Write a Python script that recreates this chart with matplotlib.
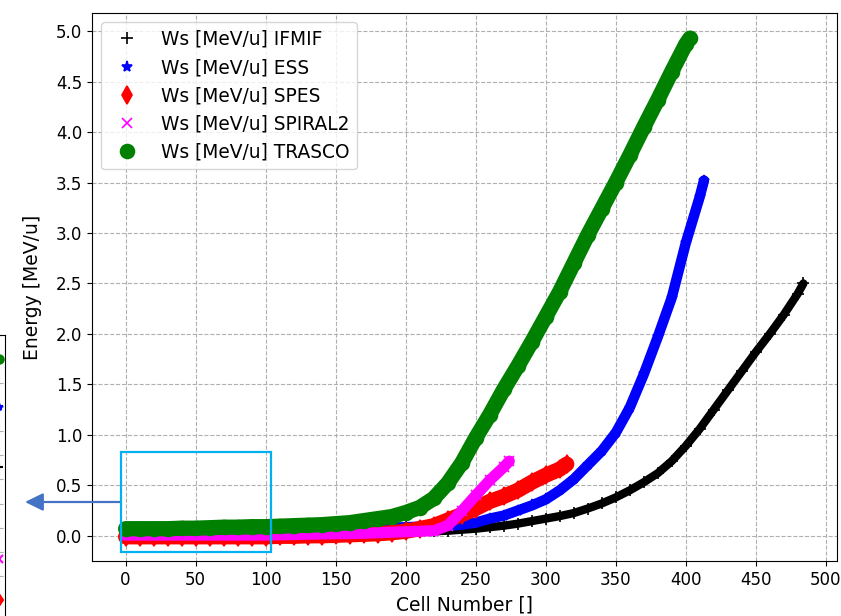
import matplotlib.pyplot as plt
from matplotlib.patches import Rectangle

# Cell number samples and synchronous energy Ws [MeV/u]
cell_ifmif = [0, 10, 20, 30, 40, 50, 60, 70, 80, 90, 100, 110, 120, 130, 140, 150, 160, 170, 180, 190,
              200, 210, 220, 230, 240, 250, 260, 270, 280, 290, 300, 310, 320, 330, 340, 350, 360, 370,
              380, 390, 400, 410, 420, 430, 440, 450, 460, 470, 480, 484]
ws_ifmif = [0.03, 0.03, 0.03, 0.03, 0.035, 0.035, 0.035, 0.035, 0.04, 0.04, 0.045, 0.045, 0.045, 0.045,
            0.045, 0.045, 0.045, 0.045, 0.045, 0.045, 0.045, 0.045, 0.045, 0.05, 0.06, 0.07, 0.085, 0.10,
            0.12, 0.145, 0.17, 0.195, 0.225, 0.27, 0.32, 0.38, 0.45, 0.53, 0.62, 0.74, 0.89, 1.06, 1.25,
            1.44, 1.63, 1.82, 2.0, 2.19, 2.40, 2.50]

cell_ess = [0, 10, 20, 30, 40, 50, 60, 70, 80, 90, 100, 110, 120, 130, 140, 150, 160, 170, 180, 190,
            200, 210, 220, 230, 240, 250, 260, 270, 280, 290, 300, 310, 320, 330, 340, 350, 360, 370,
            380, 390, 400, 410, 413]
ws_ess = [0.06, 0.06, 0.06, 0.06, 0.065, 0.065, 0.065, 0.065, 0.07, 0.07, 0.07, 0.07, 0.07, 0.075, 0.075,
          0.075, 0.075, 0.08, 0.08, 0.08, 0.085, 0.09, 0.095, 0.10, 0.11, 0.13, 0.17, 0.20, 0.25, 0.30,
          0.36, 0.45, 0.56, 0.70, 0.84, 1.02, 1.27, 1.60, 1.97, 2.36, 2.90, 3.36, 3.52]

cell_spes = [0, 10, 20, 30, 40, 50, 60, 70, 80, 90, 100, 110, 120, 130, 140, 150, 160, 170, 180, 190,
             200, 210, 220, 230, 240, 250, 260, 270, 280, 290, 300, 310, 315]
ws_spes = [-0.01, -0.01, -0.01, -0.01, -0.01, -0.01, -0.01, -0.01, -0.01, -0.01, -0.01, -0.005, -0.005,
           0.0, 0.0, 0.005, 0.01, 0.015, 0.02, 0.03, 0.045, 0.07, 0.10, 0.155, 0.21, 0.27, 0.34, 0.39,
           0.45, 0.53, 0.60, 0.66, 0.71]

cell_spiral2 = [0, 10, 20, 30, 40, 50, 60, 70, 80, 90, 100, 110, 120, 130, 140, 150, 160, 170, 180, 190,
                200, 210, 220, 230, 240, 250, 260, 270, 274]
ws_spiral2 = [0.007, 0.007, 0.007, 0.007, 0.007, 0.007, 0.007, 0.007, 0.007, 0.007, 0.007, 0.01, 0.012,
              0.015, 0.018, 0.02, 0.022, 0.025, 0.03, 0.035, 0.04, 0.045, 0.05, 0.10, 0.245, 0.40, 0.55,
              0.68, 0.74]

cell_trasco = [0, 10, 20, 30, 40, 50, 60, 70, 80, 90, 100, 110, 120, 130, 140, 150, 160, 170, 180, 190,
               200, 210, 220, 230, 240, 250, 260, 270, 280, 290, 300, 310, 320, 330, 340, 350, 360, 370,
               380, 390, 400, 403]
ws_trasco = [0.07, 0.07, 0.07, 0.07, 0.075, 0.075, 0.08, 0.085, 0.085, 0.09, 0.09, 0.095, 0.10, 0.105,
             0.11, 0.12, 0.13, 0.15, 0.17, 0.19, 0.23, 0.28, 0.37, 0.52, 0.72, 0.97, 1.20, 1.45, 1.68,
             1.92, 2.17, 2.42, 2.70, 2.98, 3.24, 3.50, 3.77, 4.05, 4.32, 4.60, 4.87, 4.93]

# data, label, colour, marker, marker size, band width
series = [
    (cell_ifmif, ws_ifmif, 'Ws [MeV/u] IFMIF', 'black', '+', 9, 6),
    (cell_ess, ws_ess, 'Ws [MeV/u] ESS', 'blue', '*', 8, 7.5),
    (cell_spes, ws_spes, 'Ws [MeV/u] SPES', 'red', 'd', 9, 11),
    (cell_spiral2, ws_spiral2, 'Ws [MeV/u] SPIRAL2', 'magenta', 'x', 7, 8),
    (cell_trasco, ws_trasco, 'Ws [MeV/u] TRASCO', 'green', 'o', 10, 11),
]

plt.rcParams['font.size'] = 12

fig = plt.figure(figsize=(8.41, 6.16), dpi=100)

# piece of the neighbouring (zoomed) plot, cut by the left border
ax_left = fig.add_axes([-395 / 841, 1 - 624 / 616, 400 / 841, 289 / 616])
for x, y, lab, col, mk, ms, lw in series:
    ax_left.plot(x, y, mk, color=col, markersize=6, mew=1.5)
ax_left.set_xlim(0, 101.5)
ax_left.set_ylim(-0.02, 0.10)
ax_left.set_yticks([i / 100 for i in range(-2, 11)])
ax_left.grid(True, linestyle='--')
ax_left.tick_params(left=False, bottom=False, labelleft=False, labelbottom=False)

ax = fig.add_axes([92 / 841, 1 - 561 / 616, 745 / 841, 548 / 616])
for x, y, lab, col, mk, ms, lw in series:
    ax.plot(x, y, '-', color=col, linewidth=lw, solid_capstyle='round', solid_joinstyle='round')
    ax.plot(x, y, mk, linestyle='none', color=col, markersize=ms, mew=1.2, label=lab)

ax.set_xlim(-24, 508)
ax.set_ylim(-0.25, 5.18)
ax.set_xticks(range(0, 501, 50))
ax.set_yticks([i / 2 for i in range(11)])
ax.grid(True, linestyle='--')
ax.set_xlabel('Cell Number []', fontsize=13.5, labelpad=5)
ax.set_ylabel('Energy [MeV/u]', fontsize=13.5, labelpad=10)
ax.legend(loc='upper left', fontsize=13.4)

# highlight box and arrow towards the zoomed view
ax.add_patch(Rectangle((-3, -0.16), 107, 0.99, fill=False, edgecolor='#00B0F0', linewidth=1.6, zorder=6))
ax.annotate('', xy=(25 / 841, 1 - 502 / 616), xycoords='figure fraction',
            xytext=(121 / 841, 1 - 502 / 616), textcoords='figure fraction',
            arrowprops=dict(arrowstyle='-|>,head_length=0.55,head_width=0.27', color='#4472C4',
                            lw=1.6, mutation_scale=20, shrinkA=0, shrinkB=0))

fig.savefig('out.png', dpi=100)
